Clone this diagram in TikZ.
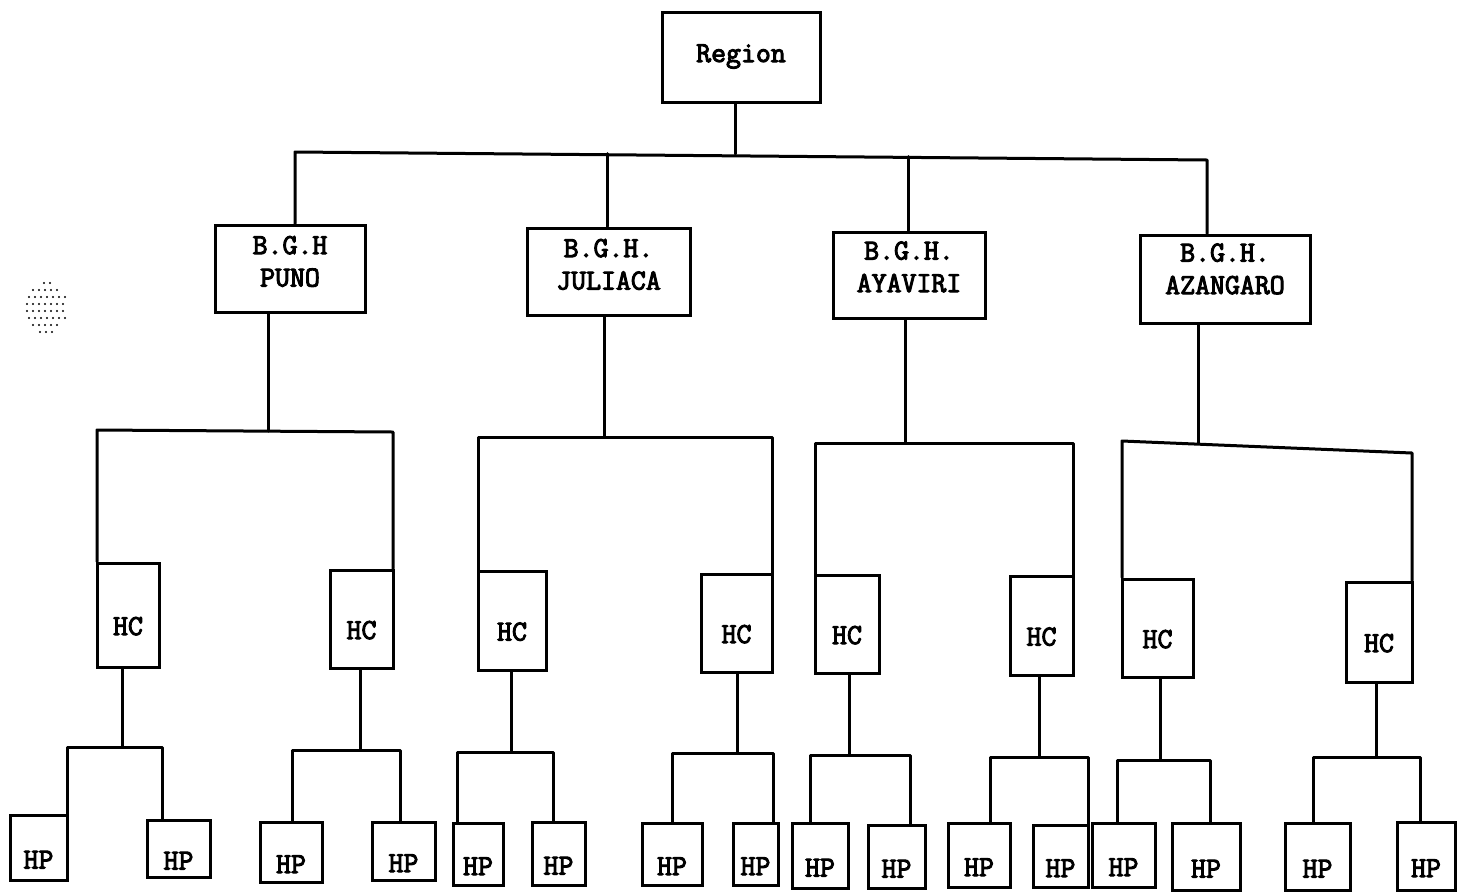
\documentclass[tikz,border=0pt]{standalone}
\usepackage{fontspec}
\newfontfamily\tw{Latin Modern Mono}[AutoFakeBold=3.5]
\begin{document}
\begin{tikzpicture}[x=1pt,y=-1pt,
  ln/.style={line width=3pt,line cap=round,line join=round},
  box/.style={draw,line width=3pt,inner sep=0pt,font=\fontsize{29}{30}\tw\bfseries,align=center}]
\useasboundingbox (0,0) rectangle (1471,895);

% scan speckle at left
\foreach \yy/\a/\b in {283/44/52,290/33/62,297/29/66,304/27/68,311/27/68,318/29/66,325/33/62,332/40/56}{
  \foreach \px in {0,...,6}{
    \pgfmathsetmacro\xx{\a+\px*6}
    \pgfmathparse{\xx<=\b?1:0}
    \ifnum\pgfmathresult=1 \fill (\xx,\yy) circle (1.2pt);\fi
  }
}

% top
\node[box,minimum width=158,minimum height=90] (reg) at (741,57) {\raisebox{-5pt}[0pt][0pt]{Region}};

\node[box,minimum width=150,minimum height=87] (bghP) at (290,268.5) {\raisebox{-18pt}[0pt][0pt]{\shortstack{B.G.H\\[11pt]PUNO}}};
\node[box,minimum width=163,minimum height=87] (bghJ) at (608.5,271.5) {\raisebox{-18pt}[0pt][0pt]{\shortstack{B.G.H.\\[11pt]JULIACA}}};
\node[box,minimum width=152,minimum height=86] (bghA) at (909,275) {\raisebox{-17pt}[0pt][0pt]{\shortstack{B.G.H.\\[11pt]AYAVIRI}}};
\node[box,minimum width=170,minimum height=88] (bghZ) at (1225,279) {\raisebox{-15pt}[0pt][0pt]{\shortstack{B.G.H.\\[11pt]AZANGARO}}};

\coordinate (tl) at (295,152);
\coordinate (tm) at (735,154);
\coordinate (tr) at (1207,160);
\coordinate (tj) at (607,153.5);
\coordinate (ta) at (908,156.5);
\draw[ln] (reg.south -| tm) -- (tm);
\draw[ln] (bghP.north -| tl) -- (tl) -- (tr) -- (bghZ.north -| tr);
\draw[ln] (tj) -- (bghJ.north -| tj);
\draw[ln] (ta) -- (bghA.north -| ta);

% HC boxes
\foreach \i/\xa/\ya/\xb/\yb in {1/97/563/159/667,2/330/570/393/668,3/478/571/546/670,4/701/574/772/672,
  5/815/575/879/673,6/1010/576/1073/675,7/1122/579/1193/677,8/1346/582/1412/682}{
  \node[box,minimum width={\xb-\xa},minimum height={\yb-\ya}] (hc\i) at ({(\xa+\xb)/2},{(\ya+\yb)/2}) {\raisebox{-20pt}[0pt][0pt]{HC}};
}

% level 2 connectors
\foreach \b/\mx/\my/\lx/\ly/\rx/\ry/\l/\r in {bghP/268/431/97/430/393/432/1/2,
  bghJ/604/437/478/437/772/437/3/4,
  bghA/905/443/815/443/1073/443/5/6,
  bghZ/1198/443/1122/441/1412/453/7/8}{
  \coordinate (m\b) at (\mx,\my);
  \coordinate (l\b) at (\lx,\ly);
  \coordinate (r\b) at (\rx,\ry);
  \draw[ln] (\b.south -| m\b) -- (m\b);
  \draw[ln] (hc\l.north -| l\b) -- (l\b) -- (r\b) -- (hc\r.north -| r\b);
}

% HP boxes
\foreach \i/\xa/\ya/\xb/\yb in {1/10/815/67/880,2/147/820/210/877,3/260/822/322/882,4/372/822/435/880,
  5/453/823/503/885,6/532/822/585/885,7/642/823/702/885,8/733/823/778/885,
  9/792/823/848/888,10/868/825/925/888,11/948/823/1010/887,12/1033/825/1088/887,
  13/1092/823/1155/887,14/1172/823/1240/890,15/1285/823/1350/890,16/1397/822/1455/890}{
  \node[box,minimum width={\xb-\xa},minimum height={\yb-\ya}] (hp\i) at ({(\xa+\xb)/2},{(\ya+\yb)/2}) {\raisebox{-21pt}[0pt][0pt]{HP}};
}

% level 3 connectors
\foreach \g/\dx/\by/\lx/\rx/\l/\r in {1/122/747/67/162/1/2,2/360/750/292/400/3/4,3/511/752/457/553/5/6,
  4/737/753/672/773/7/8,5/849/755/810/910/9/10,6/1039/757/990/1088/11/12,
  7/1160/760/1117/1210/13/14,8/1376/757/1313/1420/15/16}{
  \coordinate (bm\g) at (\dx,\by);
  \coordinate (bl\g) at (\lx,\by);
  \coordinate (br\g) at (\rx,\by);
  \draw[ln] (hc\g.south -| bm\g) -- (bm\g);
  \draw[ln] (hp\l.north -| bl\g) -- (bl\g) -- (br\g) -- (hp\r.north -| br\g);
}
\end{tikzpicture}
\end{document}
